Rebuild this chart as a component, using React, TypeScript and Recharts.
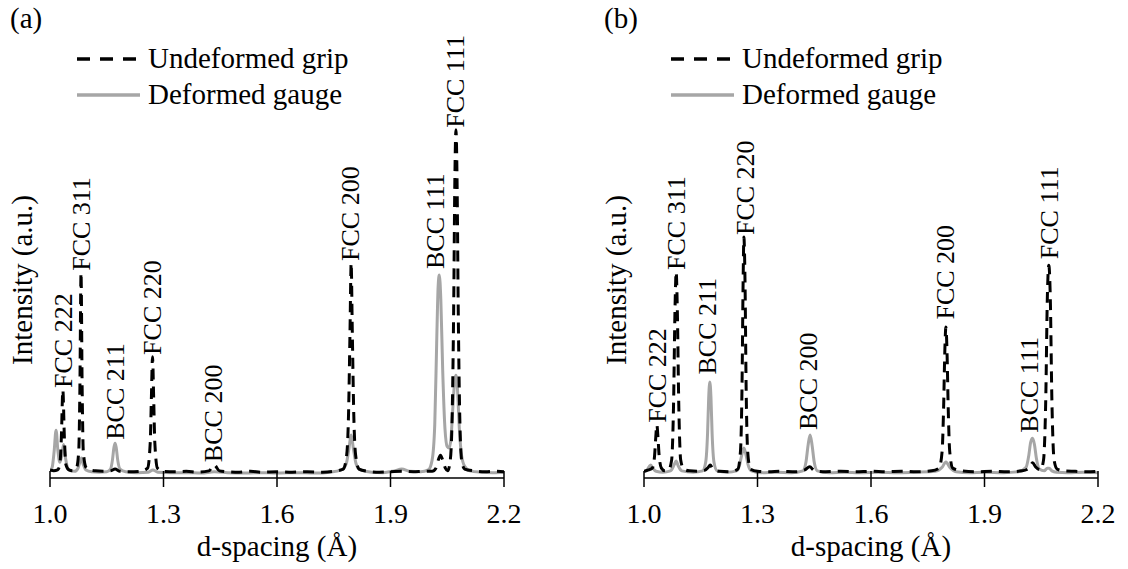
import React from 'react';
import { ComposedChart, Line, Scatter, XAxis, YAxis } from 'recharts';

// d-spacing (Å) vs intensity (a.u.)
const X_TICKS = [1.0, 1.3, 1.6, 1.9, 2.2];

// panel (a) – undeformed grip (dashed)
const gripA: [number, number][] = [
  [1.000, 1.8], [1.010, 1.6], [1.020, 1.8], [1.026, 3.0], [1.030, 9.0], [1.034, 19.7], [1.038, 9.0], [1.042, 3.0],
  [1.050, 1.8], [1.060, 1.6], [1.070, 2.2], [1.076, 6.0], [1.079, 20], [1.082, 45.9], [1.085, 20], [1.088, 6.0],
  [1.095, 2.4], [1.105, 1.8], [1.120, 1.6], [1.140, 1.5], [1.160, 1.6], [1.172, 2.0], [1.185, 1.5], [1.210, 1.4],
  [1.240, 1.5], [1.258, 2.2], [1.265, 8.0], [1.268, 18], [1.271, 27.1], [1.274, 18], [1.277, 8.0], [1.284, 2.2],
  [1.300, 1.5], [1.330, 1.4], [1.360, 1.5], [1.390, 1.3], [1.420, 1.6], [1.434, 2.9], [1.448, 1.6], [1.470, 1.4],
  [1.500, 1.3], [1.530, 1.5], [1.560, 1.3], [1.600, 1.4], [1.640, 1.3], [1.680, 1.4], [1.720, 1.3], [1.750, 1.5],
  [1.775, 2.0], [1.784, 5.0], [1.789, 14], [1.793, 33], [1.796, 48.1], [1.799, 33], [1.803, 14], [1.808, 5.0],
  [1.817, 2.0], [1.840, 1.5], [1.870, 1.3], [1.900, 1.4], [1.930, 1.5], [1.960, 1.4], [1.990, 1.5], [2.010, 1.5],
  [2.020, 2.2], [2.027, 4.2], [2.032, 5.1], [2.038, 4.0], [2.045, 2.2], [2.051, 1.6], [2.058, 4.0], [2.063, 14],
  [2.067, 38], [2.070, 66], [2.073, 77.9], [2.076, 66], [2.079, 38], [2.083, 14], [2.088, 4.0], [2.096, 2.0],
  [2.120, 1.6], [2.150, 1.4], [2.180, 1.5], [2.200, 1.4],
];

// panel (a) – deformed gauge (grey)
const gaugeA: [number, number][] = [
  [1.000, 1.5], [1.006, 2.5], [1.011, 6.0], [1.016, 10.7], [1.021, 6.0], [1.026, 3.5], [1.031, 5.0], [1.036, 7.5],
  [1.041, 4.5], [1.047, 2.2], [1.055, 1.6], [1.065, 1.5], [1.074, 2.2], [1.079, 3.6], [1.083, 4.5], [1.088, 3.0],
  [1.095, 1.8], [1.110, 1.4], [1.130, 1.3], [1.150, 1.4], [1.160, 2.0], [1.165, 4.0], [1.169, 6.8], [1.172, 7.8],
  [1.175, 6.8], [1.179, 4.0], [1.185, 2.0], [1.200, 1.4], [1.230, 1.2], [1.260, 1.3], [1.272, 1.8], [1.285, 1.3],
  [1.320, 1.2], [1.360, 1.2], [1.400, 1.1], [1.434, 1.4], [1.470, 1.2], [1.520, 1.1], [1.560, 1.2], [1.600, 1.1],
  [1.650, 1.2], [1.700, 1.1], [1.740, 1.3], [1.770, 1.8], [1.783, 3.2], [1.790, 6.5], [1.796, 9.6], [1.802, 6.5],
  [1.809, 3.2], [1.820, 1.8], [1.850, 1.3], [1.880, 1.2], [1.910, 1.6], [1.930, 2.0], [1.950, 1.5], [1.980, 1.4],
  [2.000, 1.8], [2.010, 4.0], [2.017, 12], [2.022, 30], [2.026, 43], [2.029, 45.4], [2.033, 40], [2.038, 24],
  [2.044, 11], [2.050, 7.0], [2.055, 6.7], [2.060, 9.0], [2.065, 16], [2.070, 22], [2.073, 23], [2.077, 20],
  [2.082, 11], [2.088, 5.0], [2.096, 2.6], [2.110, 1.6], [2.140, 1.3], [2.170, 1.2], [2.200, 1.3],
];

// panel (b) – undeformed grip (dashed)
const gripB: [number, number][] = [
  [1.000, 1.5], [1.012, 1.8], [1.022, 2.2], [1.028, 5.0], [1.031, 9.0], [1.034, 11.9], [1.037, 9.0], [1.040, 5.0],
  [1.046, 2.2], [1.055, 1.6], [1.065, 1.8], [1.073, 4.0], [1.078, 16], [1.082, 38], [1.085, 46.1], [1.088, 38],
  [1.092, 16], [1.097, 4.0], [1.105, 2.0], [1.120, 1.6], [1.140, 1.5], [1.160, 1.7], [1.170, 2.4], [1.175, 2.9],
  [1.181, 2.2], [1.200, 1.5], [1.230, 1.4], [1.248, 2.0], [1.255, 6.0], [1.259, 20], [1.262, 44], [1.264, 53.9],
  [1.267, 44], [1.270, 20], [1.274, 6.0], [1.281, 2.0], [1.300, 1.5], [1.330, 1.4], [1.360, 1.5], [1.400, 1.4],
  [1.425, 1.8], [1.438, 2.5], [1.450, 1.7], [1.480, 1.4], [1.520, 1.5], [1.560, 1.4], [1.600, 1.5], [1.640, 1.4],
  [1.680, 1.5], [1.720, 1.4], [1.760, 1.6], [1.780, 2.2], [1.788, 6.0], [1.792, 16], [1.795, 28], [1.798, 33.8],
  [1.801, 28], [1.804, 16], [1.808, 6.0], [1.816, 2.2], [1.840, 1.6], [1.880, 1.4], [1.920, 1.5], [1.960, 1.4],
  [2.000, 1.6], [2.018, 2.2], [2.027, 3.4], [2.036, 2.4], [2.048, 1.8], [2.056, 4.0], [2.062, 18], [2.066, 40],
  [2.070, 47.6], [2.074, 40], [2.078, 18], [2.084, 4.0], [2.092, 2.0], [2.110, 1.6], [2.140, 1.5], [2.170, 1.4],
  [2.200, 1.5],
];

// panel (b) – deformed gauge (grey)
const gaugeB: [number, number][] = [
  [1.000, 1.4], [1.008, 1.8], [1.014, 2.6], [1.018, 2.9], [1.023, 2.2], [1.032, 1.5], [1.050, 1.3], [1.070, 1.6],
  [1.080, 3.0], [1.085, 3.8], [1.090, 2.8], [1.100, 1.6], [1.130, 1.3], [1.155, 1.6], [1.163, 3.5], [1.168, 10],
  [1.171, 18], [1.174, 21.5], [1.177, 18], [1.180, 10], [1.185, 3.5], [1.193, 1.6], [1.220, 1.3], [1.245, 1.6],
  [1.253, 3.0], [1.258, 5.0], [1.264, 6.7], [1.270, 5.0], [1.275, 3.0], [1.284, 1.6], [1.310, 1.2], [1.350, 1.3],
  [1.390, 1.2], [1.420, 1.6], [1.428, 3.5], [1.434, 7.5], [1.439, 9.6], [1.444, 7.5], [1.450, 3.5], [1.458, 1.6],
  [1.490, 1.2], [1.530, 1.3], [1.570, 1.2], [1.620, 1.3], [1.670, 1.2], [1.720, 1.3], [1.770, 1.5], [1.788, 2.4],
  [1.798, 3.6], [1.808, 2.4], [1.825, 1.4], [1.860, 1.2], [1.900, 1.3], [1.950, 1.2], [1.990, 1.4], [2.010, 2.4],
  [2.017, 5.0], [2.022, 8.0], [2.027, 8.9], [2.032, 7.5], [2.037, 4.5], [2.045, 2.0], [2.058, 1.6], [2.066, 2.2],
  [2.071, 2.2], [2.078, 1.6], [2.090, 1.3], [2.120, 1.2], [2.160, 1.3], [2.200, 1.2],
];

// peak labels: position (d, intensity where the text starts) and name
const peaksA: [number, number, string][] = [
  [1.035, 19.7, 'FCC 222'], [1.082, 45.9, 'FCC 311'], [1.172, 8.1, 'BCC 211'], [1.271, 27.1, 'FCC 220'],
  [1.432, 3.1, 'BCC 200'], [1.795, 48.1, 'FCC 200'], [2.019, 46.3, 'BCC 111'], [2.073, 77.9, 'FCC 111'],
];
const peaksB: [number, number, string][] = [
  [1.037, 11.9, 'FCC 222'], [1.087, 46.1, 'FCC 311'], [1.169, 22.7, 'BCC 211'], [1.267, 53.9, 'FCC 220'],
  [1.434, 10.3, 'BCC 200'], [1.798, 35.0, 'FCC 200'], [2.020, 9.7, 'BCC 111'], [2.073, 48.5, 'FCC 111'],
];

const FONT = "'Liberation Serif', 'DejaVu Serif', serif";
const serif = { fontFamily: FONT };
const toRows = (pts: [number, number][]) => pts.map(([d, v]) => ({ d, v }));
const toLabels = (pts: [number, number, string][]) => pts.map(([d, v, name]) => ({ d, v, name }));

const renderTick = (props: any) => {
  const { x, y, payload } = props;
  return (
    <g>
      <line x1={x} x2={x} y1={y - 7} y2={y + 9} stroke="#000" strokeWidth={1.5} />
      <text x={x} y={y + 45} textAnchor="middle" fontSize={28} style={serif} fill="#000">
        {Number(payload.value).toFixed(1)}
      </text>
    </g>
  );
};

const renderPeakLabel = (props: any) => {
  const { cx, cy, payload } = props;
  return (
    <text
      x={cx}
      y={cy}
      dx={2}
      transform={`rotate(-90 ${cx} ${cy})`}
      dominantBaseline="central"
      fontSize={26}
      style={serif}
      fill="#000"
    >
      {payload.name}
    </text>
  );
};

const axisLine = { stroke: '#000', strokeWidth: 1.5 };

interface PanelProps {
  left: number;
  letter: string;
  grip: [number, number][];
  gauge: [number, number][];
  peaks: [number, number, string][];
}

const Panel: React.FC<PanelProps> = ({ left, letter, grip, gauge, peaks }) => (
  <div style={{ position: 'absolute', left, top: 0, width: 534, height: 569 }}>
    <ComposedChart width={534} height={569} margin={{ top: 31, right: 30, bottom: 0, left: 50 }}>
      <XAxis
        type="number"
        dataKey="d"
        domain={[1, 2.2]}
        ticks={X_TICKS}
        allowDataOverflow
        height={91}
        tickSize={0}
        tickMargin={0}
        tickLine={false}
        axisLine={axisLine}
        tick={renderTick}
        interval={0}
      />
      <XAxis xAxisId="top" orientation="top" type="number" domain={[1, 2.2]} height={0} tick={false} tickLine={false} axisLine={axisLine} />
      <YAxis type="number" domain={[0, 100]} width={0} tick={false} tickLine={false} axisLine={axisLine} allowDataOverflow />
      <YAxis yAxisId="right" orientation="right" type="number" domain={[0, 100]} width={0} tick={false} tickLine={false} axisLine={axisLine} />
      <Line
        data={toRows(gauge)}
        dataKey="v"
        type="monotone"
        stroke="#a6a6a6"
        strokeWidth={3}
        dot={false}
        isAnimationActive={false}
      />
      <Line
        data={toRows(grip)}
        dataKey="v"
        type="monotone"
        stroke="#000"
        strokeWidth={3}
        strokeDasharray="11 7"
        dot={false}
        isAnimationActive={false}
      />
      <Scatter data={toLabels(peaks)} dataKey="v" shape={renderPeakLabel} isAnimationActive={false} />
    </ComposedChart>
    <svg width={534} height={569} style={{ position: 'absolute', left: 0, top: 0, pointerEvents: 'none', ...serif }}>
      <text x={10} y={28} fontSize={29} style={serif} fill="#000">{letter}</text>
      <text x={32} y={280} transform="rotate(-90 32 280)" textAnchor="middle" fontSize={29} style={serif} fill="#000">
        Intensity (a.u.)
      </text>
      <text x={277} y={556} textAnchor="middle" fontSize={29} style={serif} fill="#000">d-spacing (Å)</text>
      <line x1={77} x2={140} y1={59} y2={59} stroke="#000" strokeWidth={3.5} strokeDasharray="13 10" />
      <text x={148} y={68} fontSize={29} style={serif} fill="#000">Undeformed grip</text>
      <line x1={77} x2={140} y1={95} y2={95} stroke="#a6a6a6" strokeWidth={3.5} />
      <text x={148} y={104} fontSize={29} style={serif} fill="#000">Deformed gauge</text>
    </svg>
  </div>
);

export default function App() {
  return (
    <div style={{ position: 'absolute', left: 0, top: 0, width: 1128, height: 569, background: '#fff', overflow: 'hidden' }}>
      <Panel left={0} letter="(a)" grip={gripA} gauge={gaugeA} peaks={peaksA} />
      <Panel left={594} letter="(b)" grip={gripB} gauge={gaugeB} peaks={peaksB} />
    </div>
  );
}
